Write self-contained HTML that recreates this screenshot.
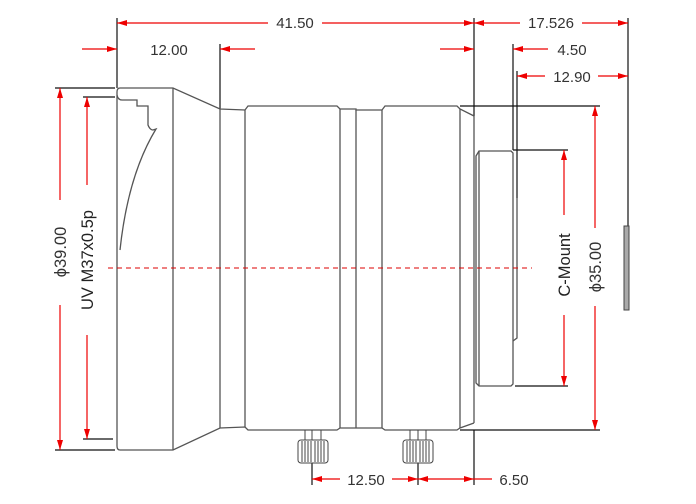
<!DOCTYPE html>
<html><head><meta charset="utf-8"><style>
html,body{margin:0;padding:0;background:#fff;width:696px;height:504px;overflow:hidden}
svg{display:block}
text{font-family:"Liberation Sans",sans-serif;font-size:15px;fill:#333}
.r{font-size:16.5px}
</style></head><body>
<svg width="696" height="504" viewBox="0 0 696 504" xmlns="http://www.w3.org/2000/svg">
<defs>
<marker id="a" viewBox="0 0 10 6" refX="10" refY="3" markerWidth="10" markerHeight="6" orient="auto" markerUnits="userSpaceOnUse"><path d="M0,0L10,3L0,6z" fill="#e00"/></marker>
</defs>
<g stroke="#111" stroke-width="1.2" fill="none">
<line x1="117" y1="18" x2="117" y2="88"/>
<line x1="220" y1="44" x2="220" y2="109"/>
<line x1="474" y1="18" x2="474" y2="116"/>
<line x1="513" y1="44" x2="513" y2="150"/>
<line x1="517" y1="71" x2="517" y2="198"/>
<line x1="628" y1="18" x2="628" y2="226"/>
<line x1="55" y1="88" x2="115" y2="88"/>
<line x1="83" y1="97" x2="115" y2="97"/>
<line x1="55" y1="450" x2="115" y2="450"/>
<line x1="83" y1="439" x2="113" y2="439"/>
<line x1="460" y1="106" x2="600" y2="106"/>
<line x1="460" y1="430" x2="600" y2="430"/>
<line x1="513" y1="150" x2="568" y2="150"/>
<line x1="515" y1="386" x2="568" y2="386"/>
<line x1="312" y1="463" x2="312" y2="485"/>
<line x1="418" y1="463" x2="418" y2="485"/>
<line x1="474" y1="430" x2="474" y2="485"/>
</g>
<g stroke="#555" stroke-width="1.3" fill="none">
<path d="M120,88 L173,88 L220,109 L245,110 L248,106 L337,106 L340,109 L356,109 L356,110 L382,110 L385,106 L457,106 L460,109 L474,116"/>
<path d="M120,450 L173,450 L220,428 L245,427 L248,430 L337,430 L340,428 L356,428 L382,428 L385,430 L457,430 L460,428 L474,423"/>
<path d="M120,88 Q117,88 117,92 L117,446 Q117,450 120,450"/>
<line x1="173" y1="88" x2="173" y2="450"/>
<line x1="220" y1="109" x2="220" y2="428"/>
<line x1="245" y1="110" x2="245" y2="427"/>
<line x1="340" y1="109" x2="340" y2="428"/>
<line x1="356" y1="110" x2="356" y2="428"/>
<line x1="382" y1="110" x2="382" y2="428"/>
<line x1="460" y1="109" x2="460" y2="428"/>
<line x1="474" y1="116" x2="474" y2="423"/>
<path d="M117,95 Q118,100 122,100 L137,100 L137,106 L148,106 L148,125 Q150,130 153,130 L156,129 Q128,175 120,250"/>
<path d="M476,156 L479,151 L511,151 L513,153 L513,384 L511,386 L479,386 L476,383 Z"/>
<line x1="479" y1="151" x2="479" y2="386"/>
<path d="M517,198 L517,338 L513,341"/>
</g>
<g stroke="#444" stroke-width="1" fill="none">
<line x1="305" y1="430" x2="305" y2="440"/><line x1="312" y1="430" x2="312" y2="440"/><line x1="321" y1="430" x2="321" y2="440"/>
<rect x="298" y="440" width="30" height="23" rx="3"/>
<path d="M302,441v21M305,441v21M308,441v21M311,441v21M315,441v21M318,441v21M321,441v21M324,441v21"/>
<line x1="410" y1="430" x2="410" y2="440"/><line x1="418" y1="430" x2="418" y2="440"/><line x1="426" y1="430" x2="426" y2="440"/>
<rect x="403" y="440" width="30" height="23" rx="3"/>
<path d="M407,441v21M410,441v21M413,441v21M416,441v21M420,441v21M423,441v21M426,441v21M429,441v21"/>
</g>
<rect x="624" y="226" width="5" height="84" fill="#aaa" stroke="#444"/>
<line x1="108" y1="268" x2="532" y2="268" stroke="#d00" stroke-width="1" stroke-dasharray="5,4"/>
<g stroke="#e00" stroke-width="1.2" fill="none">
<line x1="268" y1="23" x2="117" y2="23" marker-end="url(#a)"/>
<line x1="322" y1="23" x2="474" y2="23" marker-end="url(#a)"/>
<line x1="82" y1="49" x2="117" y2="49" marker-end="url(#a)"/>
<line x1="255" y1="49" x2="220" y2="49" marker-end="url(#a)"/>
<line x1="520" y1="23" x2="474" y2="23" marker-end="url(#a)"/>
<line x1="582" y1="23" x2="628" y2="23" marker-end="url(#a)"/>
<line x1="440" y1="49" x2="474" y2="49" marker-end="url(#a)"/>
<line x1="548" y1="49" x2="513" y2="49" marker-end="url(#a)"/>
<line x1="545" y1="76" x2="517" y2="76" marker-end="url(#a)"/>
<line x1="598" y1="76" x2="628" y2="76" marker-end="url(#a)"/>
<line x1="60" y1="200" x2="60" y2="88" marker-end="url(#a)"/>
<line x1="60" y1="305" x2="60" y2="450" marker-end="url(#a)"/>
<line x1="87" y1="185" x2="87" y2="97" marker-end="url(#a)"/>
<line x1="87" y1="335" x2="87" y2="439" marker-end="url(#a)"/>
<line x1="564" y1="215" x2="564" y2="150" marker-end="url(#a)"/>
<line x1="564" y1="315" x2="564" y2="386" marker-end="url(#a)"/>
<line x1="595" y1="228" x2="595" y2="106" marker-end="url(#a)"/>
<line x1="595" y1="306" x2="595" y2="430" marker-end="url(#a)"/>
<line x1="340" y1="479" x2="312" y2="479" marker-end="url(#a)"/>
<line x1="392" y1="479" x2="418" y2="479" marker-end="url(#a)"/>
<line x1="446" y1="479" x2="418" y2="479" marker-end="url(#a)"/>
<line x1="446" y1="479" x2="474" y2="479" marker-end="url(#a)"/>
<line x1="474" y1="479" x2="492" y2="479"/>
</g>
<text x="295" y="28" text-anchor="middle">41.50</text>
<text x="169" y="55" text-anchor="middle">12.00</text>
<text x="551" y="28" text-anchor="middle">17.526</text>
<text x="572" y="55" text-anchor="middle">4.50</text>
<text x="572" y="82" text-anchor="middle">12.90</text>
<text x="366" y="485" text-anchor="middle">12.50</text>
<text x="514" y="485" text-anchor="middle">6.50</text>
<text class="r" transform="translate(66,252) rotate(-90)" text-anchor="middle">ϕ39.00</text>
<text class="r" transform="translate(93,260) rotate(-90)" text-anchor="middle" style="fill:#222">UV M37x0.5p</text>
<text class="r" transform="translate(570,265) rotate(-90)" text-anchor="middle" style="fill:#222">C-Mount</text>
<text class="r" transform="translate(601,267) rotate(-90)" text-anchor="middle">ϕ35.00</text>
</svg>
</body></html>
